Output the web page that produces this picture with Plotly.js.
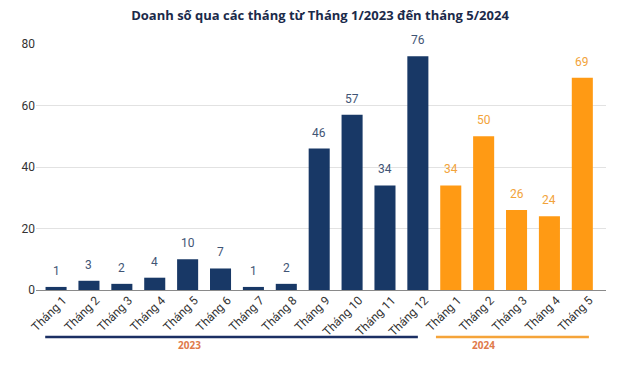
<!DOCTYPE html>
<html><head><meta charset="utf-8">
<script src="https://cdn.plot.ly/plotly-3.0.1.min.js"></script>
<style>html,body{margin:0;padding:0;background:#fff}#c{width:640px;height:365px}</style>
</head><body><div id="c"></div>
<script>
const months2023 = ["Tháng 1","Tháng 2","Tháng 3","Tháng 4","Tháng 5","Tháng 6","Tháng 7","Tháng 8","Tháng 9","Tháng 10","Tháng 11","Tháng 12"];
const values2023 = [1,3,2,4,10,7,1,2,46,57,34,76];
const months2024 = ["Tháng 1","Tháng 2","Tháng 3","Tháng 4","Tháng 5"];
const values2024 = [34,50,26,24,69];
const yearLabels = ["2023","2024"];

const navy = "#183866", orange = "#FF9A14";
const x23 = values2023.map((v,i)=>i);
const x24 = values2024.map((v,i)=>i+values2023.length);
const tickvals = x23.concat(x24);
const ticktext = months2023.concat(months2024);

const traces = [
  {type:"bar", x:x23, y:values2023, marker:{color:navy}, hoverinfo:"none"},
  {type:"bar", x:x24, y:values2024, marker:{color:orange}, hoverinfo:"none"}
];
const ann = [];
values2023.forEach((v,i)=>ann.push({x:x23[i], y:v, text:String(v), showarrow:false, yanchor:"bottom", yshift:7, font:{family:"Roboto, Arial", size:12, color:"#3F5575"}}));
values2024.forEach((v,i)=>ann.push({x:x24[i], y:v, text:String(v), showarrow:false, yanchor:"bottom", yshift:7, font:{family:"Roboto, Arial", size:12, color:"#F2A33A"}}));
ann.push({x:4.07, y:-0.26, xref:"x", yref:"paper", text:yearLabels[0], showarrow:false, font:{family:"Open Sans, Arial", size:10, color:"#E07A4A", weight:700}});
ann.push({x:13.0, y:-0.26, xref:"x", yref:"paper", text:yearLabels[1], showarrow:false, font:{family:"Open Sans, Arial", size:10, color:"#E07A4A", weight:700}});

const layout = {
  width:640, height:365,
  margin:{l:36, r:34, t:44, b:75},
  paper_bgcolor:"#fff", plot_bgcolor:"#fff",
  title:{text:"<b>Doanh số qua các tháng từ Tháng 1/2023 đến tháng 5/2024</b>", x:0.5, xanchor:"center", y:0.97, yanchor:"top", font:{family:"Open Sans, Noto Sans, Arial", size:13, color:"#1B2A4A"}},
  showlegend:false,
  bargap:0.36,
  xaxis:{range:[-0.61,16.72], tickvals:tickvals, ticktext:ticktext, tickangle:-45, ticklabelshift:7, tickfont:{family:"Roboto, Arial", size:12, color:"#333"}, showgrid:false, zeroline:false, showline:false, ticks:"", fixedrange:true},
  yaxis:{range:[0,80], tickvals:[0,20,40,60,80], tickfont:{family:"Roboto, Arial", size:12, color:"#333"}, gridcolor:"#E2E2E2", gridwidth:1, zeroline:true, zerolinecolor:"#8A8A8A", zerolinewidth:1, showline:false, ticks:"", ticklen:0, fixedrange:true},
  annotations:ann,
  shapes:[
    {type:"line", xref:"x", yref:"paper", x0:-0.33, x1:11.0, y0:-0.191, y1:-0.191, line:{color:"#1B2F63", width:2.5}},
    {type:"line", xref:"x", yref:"paper", x0:11.55, x1:16.2, y0:-0.191, y1:-0.191, line:{color:"#F5A43A", width:2.5}}
  ]
};
Plotly.newPlot("c", traces, layout, {displayModeBar:false, staticPlot:true});
</script></body></html>
